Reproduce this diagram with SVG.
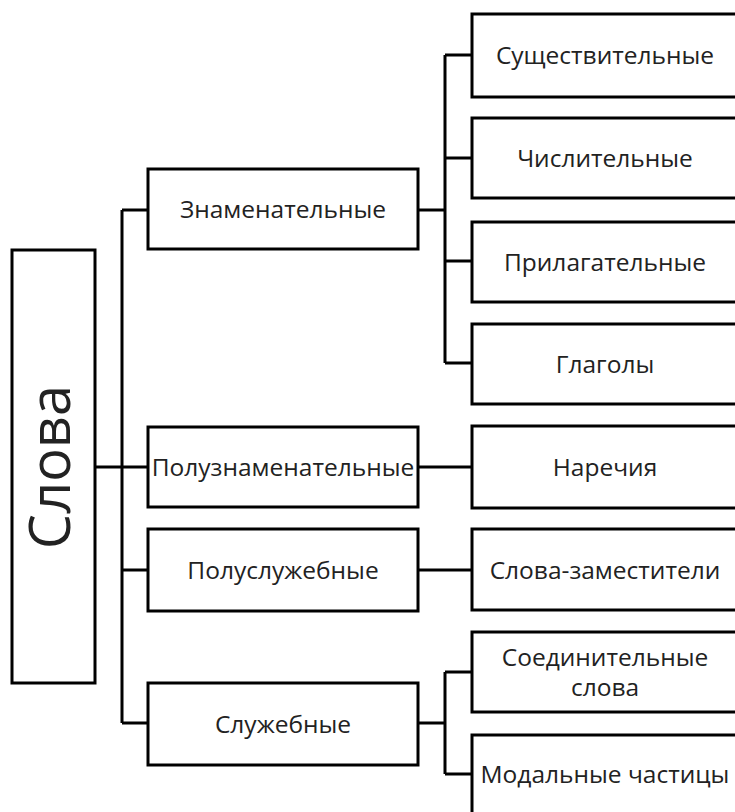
<svg xmlns="http://www.w3.org/2000/svg" width="735" height="812" viewBox="0 0 735 812">
<style>
.box{fill:#fff;stroke:#000;stroke-width:3}
.lbl{font-family:"Open Sans","Liberation Sans",sans-serif;font-size:24.5px;fill:#222;text-anchor:middle}
.big{font-family:"Open Sans","Liberation Sans",sans-serif;font-size:56px;fill:#222;text-anchor:middle}
.con{fill:none;stroke:#000;stroke-width:3}
</style>
<rect width="735" height="812" fill="#fff"/>
<g id="connectors">
<path class="con" d="M122,210V723M122,210H148M122,570H148M122,723H148M95,467H148"/>
<path class="con" d="M418,210H445M445,55V363M445,55H472M445,158H472M445,261H472M445,363H472"/>
<path class="con" d="M418,467H472M418,570H472"/>
<path class="con" d="M418,723H445M445,672V774M445,672H472M445,774H472"/>
</g>
<g id="slova"><rect class="box" x="12" y="250" width="83" height="433"/><text class="big" transform="translate(70,467) rotate(-90)">Слова</text></g>
<g id="znam"><rect class="box" x="148" y="169" width="270" height="80"/><text class="lbl" x="283" y="218">Знаменательные</text></g>
<g id="poluznam"><rect class="box" x="148" y="427" width="270" height="80"/><text class="lbl" x="283" y="476">Полузнаменательные</text></g>
<g id="polusluzh"><rect class="box" x="148" y="529" width="270" height="82"/><text class="lbl" x="283" y="579">Полуслужебные</text></g>
<g id="sluzh"><rect class="box" x="148" y="683" width="270" height="82"/><text class="lbl" x="283" y="733">Служебные</text></g>
<g id="sushch"><rect class="box" x="472" y="14" width="266" height="83"/><text class="lbl" x="605" y="64">Существительные</text></g>
<g id="chisl"><rect class="box" x="472" y="118" width="266" height="80"/><text class="lbl" x="605" y="167">Числительные</text></g>
<g id="prilag"><rect class="box" x="472" y="222" width="266" height="80"/><text class="lbl" x="605" y="271">Прилагательные</text></g>
<g id="glag"><rect class="box" x="472" y="324" width="266" height="80"/><text class="lbl" x="605" y="373">Глаголы</text></g>
<g id="narech"><rect class="box" x="472" y="426" width="266" height="82"/><text class="lbl" x="605" y="476">Наречия</text></g>
<g id="zamest"><rect class="box" x="472" y="529" width="266" height="81"/><text class="lbl" x="605" y="579">Слова-заместители</text></g>
<g id="soedin"><rect class="box" x="472" y="632" width="266" height="80"/><text class="lbl" x="605" y="666">Соединительные</text><text class="lbl" x="605" y="696">слова</text></g>
<g id="modal"><rect class="box" x="472" y="735" width="266" height="85"/><text class="lbl" x="605" y="783">Модальные частицы</text></g>
</svg>
